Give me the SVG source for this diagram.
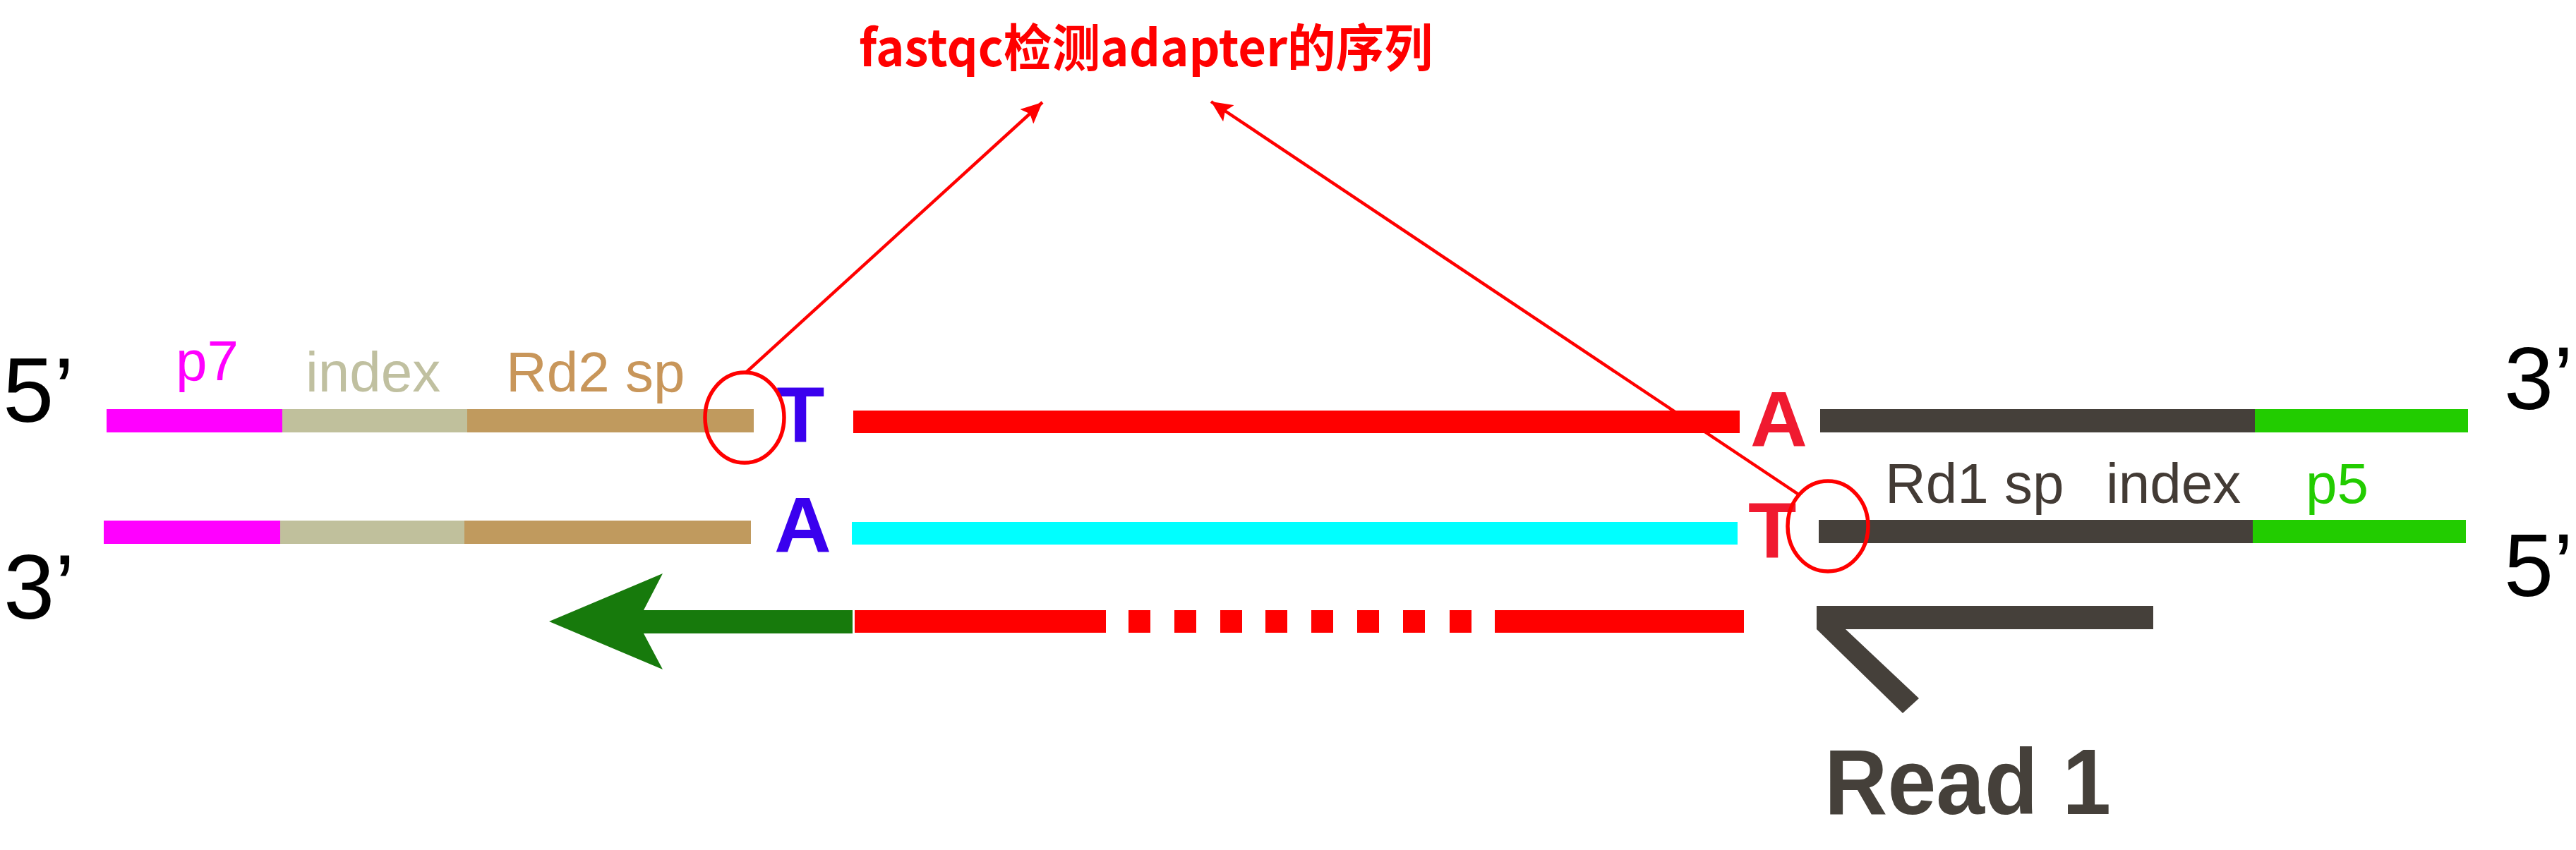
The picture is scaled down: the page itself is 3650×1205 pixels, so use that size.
<svg xmlns="http://www.w3.org/2000/svg" width="3650" height="1205" viewBox="0 0 3650 1205">
<style>
.end{font-family:"Liberation Sans",Arial,sans-serif;font-size:130px;fill:#000}
.endr{font-family:"Liberation Sans",Arial,sans-serif;font-size:126px;fill:#000}
.lab{font-family:"Liberation Sans",Arial,sans-serif;font-size:80px}
.base{font-family:"Liberation Sans",Arial,sans-serif;font-size:112px;font-weight:bold}
.blue{fill:#3a00ee}
.redb{fill:#f01a30}
.lead{stroke:#ff0000;stroke-width:4.5;fill:none}
.circ{stroke:#ff0000;stroke-width:5.5;fill:none}
</style>
<defs>
<marker id="ah" markerUnits="userSpaceOnUse" markerWidth="32" markerHeight="28" refX="30" refY="14" orient="auto">
<path d="M0,0 L30,14 L0,28 L6,14 Z" fill="#ff0000"/>
</marker>
</defs>
<rect width="3650" height="1205" fill="#ffffff"/>

<g id="title">
<text x="1217" y="94" font-family="'Noto Sans CJK SC','Noto Sans',sans-serif" font-weight="bold" font-size="72" fill="#ff0000" textLength="813" lengthAdjust="spacingAndGlyphs">fastqc检测adapter的序列</text>
</g>

<g id="ends">
<text class="end" x="4" y="598">5’</text>
<text class="end" x="5" y="877">3’</text>
<text class="endr" x="3548" y="580">3’</text>
<text class="endr" x="3548" y="845">5’</text>
</g>

<g id="top-strand">
<rect x="151" y="580" width="250" height="33" fill="#ff00ff"/>
<rect x="400" y="580" width="262" height="33" fill="#c0c09c"/>
<rect x="662" y="580" width="406" height="33" fill="#c09a5e"/>
<rect x="1209" y="582" width="1256" height="32" fill="#ff0000"/>
<rect x="2579" y="580" width="617" height="33" fill="#45403a"/>
<rect x="3195" y="580" width="302" height="33" fill="#22cc00"/>
<text class="base blue" x="1100" y="626">T</text>
<text class="base redb" x="2480" y="633">A</text>
</g>

<g id="bottom-strand">
<rect x="147" y="738" width="251" height="33" fill="#ff00ff"/>
<rect x="397" y="738" width="262" height="33" fill="#c0c09c"/>
<rect x="658" y="738" width="406" height="33" fill="#c09a5e"/>
<rect x="1207" y="740" width="1255" height="32" fill="#00ffff"/>
<rect x="2577" y="737" width="616" height="33" fill="#45403a"/>
<rect x="3192" y="737" width="302" height="33" fill="#22cc00"/>
<text class="base blue" x="1097" y="783">A</text>
<text class="base redb" x="2477" y="790">T</text>
</g>

<g id="adapter-labels">
<text class="lab" x="249" y="539" fill="#ff00ff">p7</text>
<text class="lab" x="433" y="555" fill="#c0c0a0">index</text>
<text class="lab" x="717" y="555" fill="#c8965a">Rd2 sp</text>
<text class="lab" x="2671" y="713" fill="#433b35">Rd1 sp</text>
<text class="lab" x="2984" y="713" fill="#433b35">index</text>
<text class="lab" x="3267" y="713" fill="#22cc00">p5</text>
</g>

<g id="synthesis">
<polygon points="778,881 939,813 912,865 1208,865 1208,898 912,898 939,949" fill="#177a0c"/>
<rect x="1211" y="865" width="356" height="32" fill="#ff0000"/>
<rect x="1599" y="865" width="31" height="32" fill="#ff0000"/>
<rect x="1664" y="865" width="31" height="32" fill="#ff0000"/>
<rect x="1729" y="865" width="31" height="32" fill="#ff0000"/>
<rect x="1793" y="865" width="31" height="32" fill="#ff0000"/>
<rect x="1858" y="865" width="31" height="32" fill="#ff0000"/>
<rect x="1923" y="865" width="31" height="32" fill="#ff0000"/>
<rect x="1988" y="865" width="31" height="32" fill="#ff0000"/>
<rect x="2054" y="865" width="31" height="32" fill="#ff0000"/>
<rect x="2118" y="865" width="353" height="32" fill="#ff0000"/>
</g>

<g id="read1">
<polygon points="2574,859 3051,859 3051,892 2615,892 2719,990 2696,1011 2574,892" fill="#45403a"/>
<text x="2585" y="1154" font-family="'Liberation Sans',Arial,sans-serif" font-weight="bold" font-size="132" fill="#45403a" textLength="406" lengthAdjust="spacingAndGlyphs">Read 1</text>
</g>

<g id="circles">
<ellipse class="circ" cx="1055" cy="592" rx="56" ry="64"/>
<ellipse class="circ" cx="2590" cy="746" rx="57" ry="64"/>
</g>

<g id="connectors">
<line class="lead" x1="1057" y1="528" x2="1477" y2="145" marker-end="url(#ah)"/>
<line class="lead" x1="2550" y1="702" x2="1716" y2="144" marker-end="url(#ah)"/>
</g>
</svg>
